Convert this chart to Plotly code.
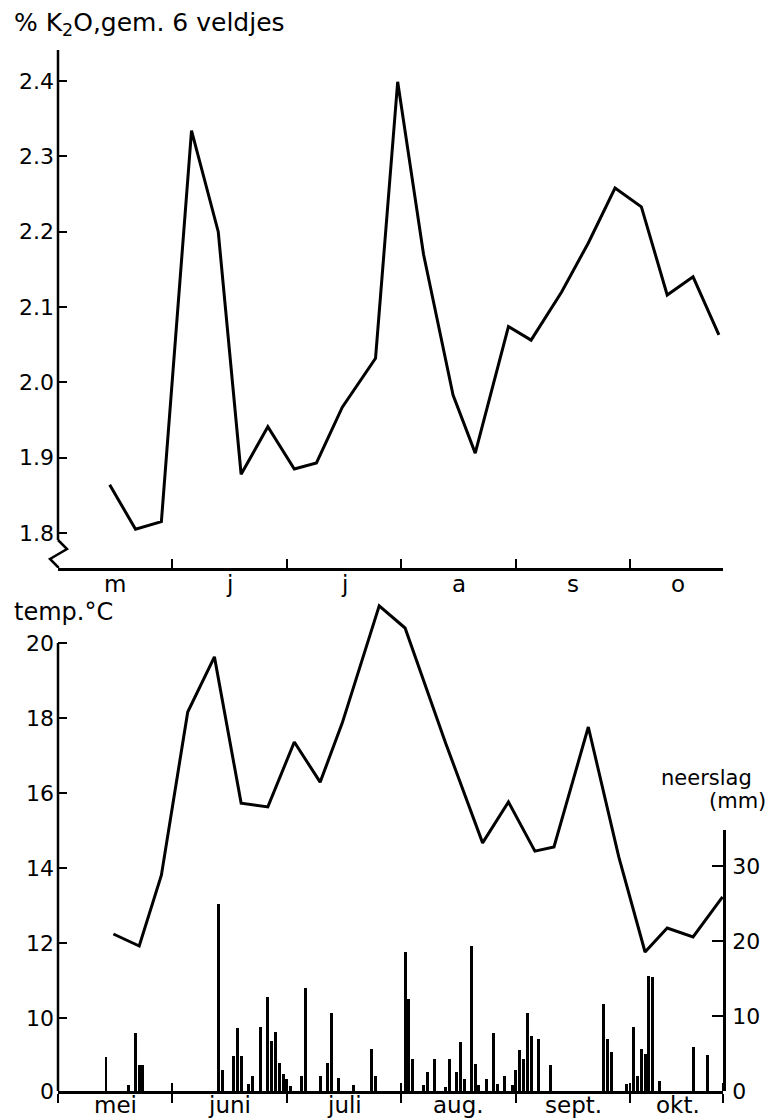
import calendar
import plotly.graph_objects as go

# ---------------- data ----------------
MONTH_START = 5  # axis starts at 1 mei

# K2O content (% K2O, mean of 6 plots), sampling dates "MM-DD"
k2o_dates = ["05-15", "05-22", "05-29", "06-06", "06-13", "06-19", "06-26", "07-03",
             "07-09", "07-16", "07-25", "07-31", "08-07", "08-15", "08-21", "08-30",
             "09-05", "09-13", "09-20", "09-27", "10-04", "10-11", "10-18", "10-25"]
k2o_values = [1.864, 1.805, 1.815, 2.334, 2.200, 1.878, 1.941, 1.885,
              1.893, 1.967, 2.032, 2.399, 2.170, 1.983, 1.906, 2.074,
              2.056, 2.120, 2.185, 2.258, 2.233, 2.116, 2.140, 2.063]

# weekly mean temperature (deg C)
temp_dates = ["05-16", "05-23", "05-29", "06-05", "06-12", "06-19", "06-26", "07-03",
              "07-10", "07-16", "07-26", "08-02", "08-13", "08-23", "08-30", "09-06",
              "09-11", "09-20", "09-28", "10-05", "10-11", "10-18", "10-26"]
temp_values = [12.24, 11.92, 13.81, 18.16, 19.63, 15.73, 15.63, 17.36,
               16.29, 17.87, 20.99, 20.40, 17.33, 14.67, 15.76, 14.45,
               14.56, 17.76, 14.29, 11.76, 12.40, 12.16, 13.23]

# daily precipitation (mm)
rain_dates = ["05-14", "05-20", "05-22", "05-23", "05-24",
              "06-13", "06-14", "06-17", "06-18", "06-19", "06-21", "06-22", "06-24",
              "06-26", "06-27", "06-28", "06-29", "06-30",
              "07-01", "07-02", "07-05", "07-06", "07-10", "07-12", "07-13", "07-15",
              "07-19", "07-24", "07-25",
              "08-02", "08-03", "08-04", "08-07", "08-08", "08-10", "08-13", "08-14",
              "08-16", "08-17", "08-18", "08-20", "08-21", "08-22", "08-24", "08-26",
              "08-27", "08-29", "08-31",
              "09-01", "09-02", "09-03", "09-04", "09-05", "09-07", "09-10", "09-24",
              "09-25", "09-26", "09-30",
              "10-02", "10-03", "10-04", "10-05", "10-06", "10-07", "10-09", "10-18",
              "10-22"]
rain_values = [4.5, 0.8, 7.8, 3.5, 3.5,
               25.0, 2.8, 4.7, 8.4, 4.7, 1.0, 2.0, 8.6,
               12.5, 6.7, 7.9, 3.8, 2.3,
               1.6, 0.7, 2.0, 13.8, 2.0, 3.7, 10.4, 1.8,
               0.8, 5.6, 2.0,
               18.5, 12.3, 4.3, 0.8, 2.6, 4.3, 0.6, 4.3,
               2.5, 6.5, 1.6, 19.3, 3.6, 0.8, 1.6, 7.7,
               1.0, 2.0, 0.8,
               2.8, 5.5, 4.3, 10.4, 7.4, 7.0, 3.5, 11.6,
               7.0, 5.2, 1.0,
               8.6, 2.0, 5.6, 5.0, 15.3, 15.2, 1.4, 5.9,
               4.8]

top_month_labels = ["m", "j", "j", "a", "s", "o"]
bottom_month_labels = ["mei", "juni", "juli", "aug.", "sept.", "okt."]
month_centers = [0.5, 1.5, 2.5, 3.5, 4.5, 5.42]
month_bounds = [0, 1, 2, 3, 4, 5, 5.81]

k2o_ticks = [1.8, 1.9, 2.0, 2.1, 2.2, 2.3, 2.4]
k2o_ticktext = ["1.8", "1.9", "2.0", "2.1", "2.2", "2.3", "2.4"]
temp_ticks = [10, 12, 14, 16, 18, 20]
rain_ticks = [0, 10, 20, 30]


def mpos(d):
    """'MM-DD' -> position on the month axis (0 = 1 mei, 1 = 1 juni, ...)."""
    m, day = map(int, d.split("-"))
    n = calendar.monthrange(1970, m)[1]
    return (m - MONTH_START) + (day - 1) / n


# ---------------- layout geometry (window pixels; body margin removed) ----------------
W, H = 776, 1119
PLOT_L, PLOT_R, PLOT_T, PLOT_B = 58, 723, 50, 1091
ML, MR = PLOT_L, W - PLOT_R
MT, MB = PLOT_T, H - PLOT_B
PH = PLOT_B - PLOT_T
PW = PLOT_R - PLOT_L


def ypaper(px):
    return (PLOT_B - px) / PH


def xp(dpx):
    return dpx / PW


TOP_BOTTOM_PX = 568
TEMP_TOP_PX = 600
RAIN_TOP_PX = 830

# top axis: 2.4 at 81 px, 1.8 at 533 px
K_PX_PER = (533 - 81) / 0.6
k_lo = 1.8 - (TOP_BOTTOM_PX - 533) / K_PX_PER
k_hi = 2.4 + (81 - PLOT_T) / K_PX_PER
# temp axis: 20 at 643 px, 37.5 px / deg
T_PX_PER = 37.5
t_lo = 20 - (PLOT_B - 643) / T_PX_PER
t_hi = 20 + (643 - TEMP_TOP_PX) / T_PX_PER
# rain axis: 7.5 px / mm
R_PX_PER = 7.5
r_hi = (PLOT_B - RAIN_TOP_PX) / R_PX_PER

FONT = "DejaVu Sans"
black = "black"

fig = go.Figure()

fig.add_trace(go.Scatter(
    x=[mpos(d) for d in k2o_dates], y=k2o_values, mode="lines",
    line=dict(color=black, width=3), xaxis="x", yaxis="y", showlegend=False))

fig.add_trace(go.Bar(
    x=[mpos(d) for d in rain_dates], y=rain_values, width=0.026,
    marker=dict(color=black, line=dict(width=0)), xaxis="x2", yaxis="y3",
    showlegend=False))

fig.add_trace(go.Scatter(
    x=[mpos(d) for d in temp_dates], y=temp_values, mode="lines",
    line=dict(color=black, width=3), xaxis="x2", yaxis="y2", showlegend=False))

tickfont = dict(family=FONT, size=22, color=black)
xrange = [0, month_bounds[-1]]

fig.update_layout(
    width=W, height=H,
    margin=dict(l=ML, r=MR, t=MT, b=MB, autoexpand=False),
    paper_bgcolor="white", plot_bgcolor="rgba(0,0,0,0)",
    font=dict(family=FONT, color=black),
    bargap=0,
    xaxis=dict(domain=[0, 1], anchor="y", range=xrange, showgrid=False, zeroline=False,
               showline=True, linecolor=black, linewidth=2.5, automargin=False,
               tickvals=month_bounds, showticklabels=False, ticks="inside",
               ticklen=9, tickwidth=2, tickcolor=black),
    yaxis=dict(domain=[ypaper(TOP_BOTTOM_PX), 1], anchor="x", range=[k_lo, k_hi],
               showgrid=False, zeroline=False, showline=False, automargin=False,
               tickvals=k2o_ticks, ticktext=k2o_ticktext, ticks="inside",
               ticklen=9, tickwidth=2, tickcolor=black, tickfont=tickfont,
               ticklabelstandoff=3),
    xaxis2=dict(domain=[0, 1], anchor="y2", range=xrange, showgrid=False, zeroline=False,
                showline=True, linecolor=black, linewidth=2.5, automargin=False,
                tickvals=month_bounds, showticklabels=False,
                ticks="outside", ticklen=9, tickwidth=2, tickcolor=black,
                minor=dict(tickvals=month_bounds, ticks="inside", ticklen=8,
                           tickwidth=2, tickcolor=black, showgrid=False)),
    yaxis2=dict(domain=[0, ypaper(TEMP_TOP_PX)], anchor="x2", range=[t_lo, t_hi],
                showgrid=False, zeroline=False, showline=False, automargin=False,
                tickvals=[t_lo] + temp_ticks,
                ticktext=["0"] + [str(t) for t in temp_ticks],
                ticks="inside", ticklen=9, tickwidth=2, tickcolor=black,
                tickfont=tickfont, ticklabelstandoff=3),
    yaxis3=dict(domain=[0, ypaper(RAIN_TOP_PX)], anchor="x2", side="right",
                range=[0, r_hi], showgrid=False, zeroline=False, automargin=False,
                showline=True, linecolor=black, linewidth=2.5,
                tickvals=rain_ticks, ticks="inside", ticklen=11, tickwidth=2,
                tickcolor=black, tickfont=tickfont, ticklabelstandoff=2),
)


# ---- axis lines drawn as shapes (with axis break in the top panel) ----
def kval(px):
    return 1.8 - (px - 533) / K_PX_PER


shapes = [
    dict(type="line", xref="paper", yref="y", x0=0, x1=0, y0=k_hi, y1=kval(540),
         line=dict(color=black, width=2.5)),
    dict(type="path", xref="paper", yref="y",
         path=f"M 0,{kval(540)} L {xp(9)},{kval(549)} L {xp(-8)},{kval(559)} "
              f"L 0,{kval(567)} L 0,{k_lo}",
         line=dict(color=black, width=2.5)),
    dict(type="line", xref="paper", yref="y2", x0=0, x1=0, y0=t_lo, y1=20,
         line=dict(color=black, width=2.5)),
]
fig.update_layout(shapes=shapes)

# ---- text labels ----
ann = []
ann.append(dict(text="% K<sub>2</sub>O,gem. 6 veldjes", xref="paper", yref="paper",
                x=xp(12 - PLOT_L), y=ypaper(24), xanchor="left", yanchor="middle",
                showarrow=False, font=dict(family=FONT, size=25, color=black)))
ann.append(dict(text="temp.°C", xref="paper", yref="paper",
                x=xp(12 - PLOT_L), y=ypaper(612), xanchor="left", yanchor="middle",
                showarrow=False, font=dict(family=FONT, size=24, color=black)))
ann.append(dict(text="neerslag", xref="paper", yref="paper",
                x=xp(754 - PLOT_L), y=ypaper(778), xanchor="right", yanchor="middle",
                showarrow=False, font=dict(family=FONT, size=21, color=black)))
ann.append(dict(text="(mm)", xref="paper", yref="paper",
                x=xp(768 - PLOT_L), y=ypaper(801), xanchor="right", yanchor="middle",
                showarrow=False, font=dict(family=FONT, size=21, color=black)))
for c, lab in zip(month_centers, top_month_labels):
    ann.append(dict(text=lab, xref="x", yref="paper", x=c, y=ypaper(584),
                    xanchor="center", yanchor="middle", showarrow=False,
                    font=dict(family=FONT, size=23, color=black)))
for c, lab in zip(month_centers, bottom_month_labels):
    ann.append(dict(text=lab, xref="x2", yref="paper", x=c, y=ypaper(1105),
                    xanchor="center", yanchor="middle", showarrow=False,
                    font=dict(family=FONT, size=23, color=black)))
fig.update_layout(annotations=ann)

fig.write_html(
    "out.html",
    config={"displayModeBar": False},
    post_script="document.body.style.margin='0px';"
                "document.body.style.overflow='hidden';",
)
